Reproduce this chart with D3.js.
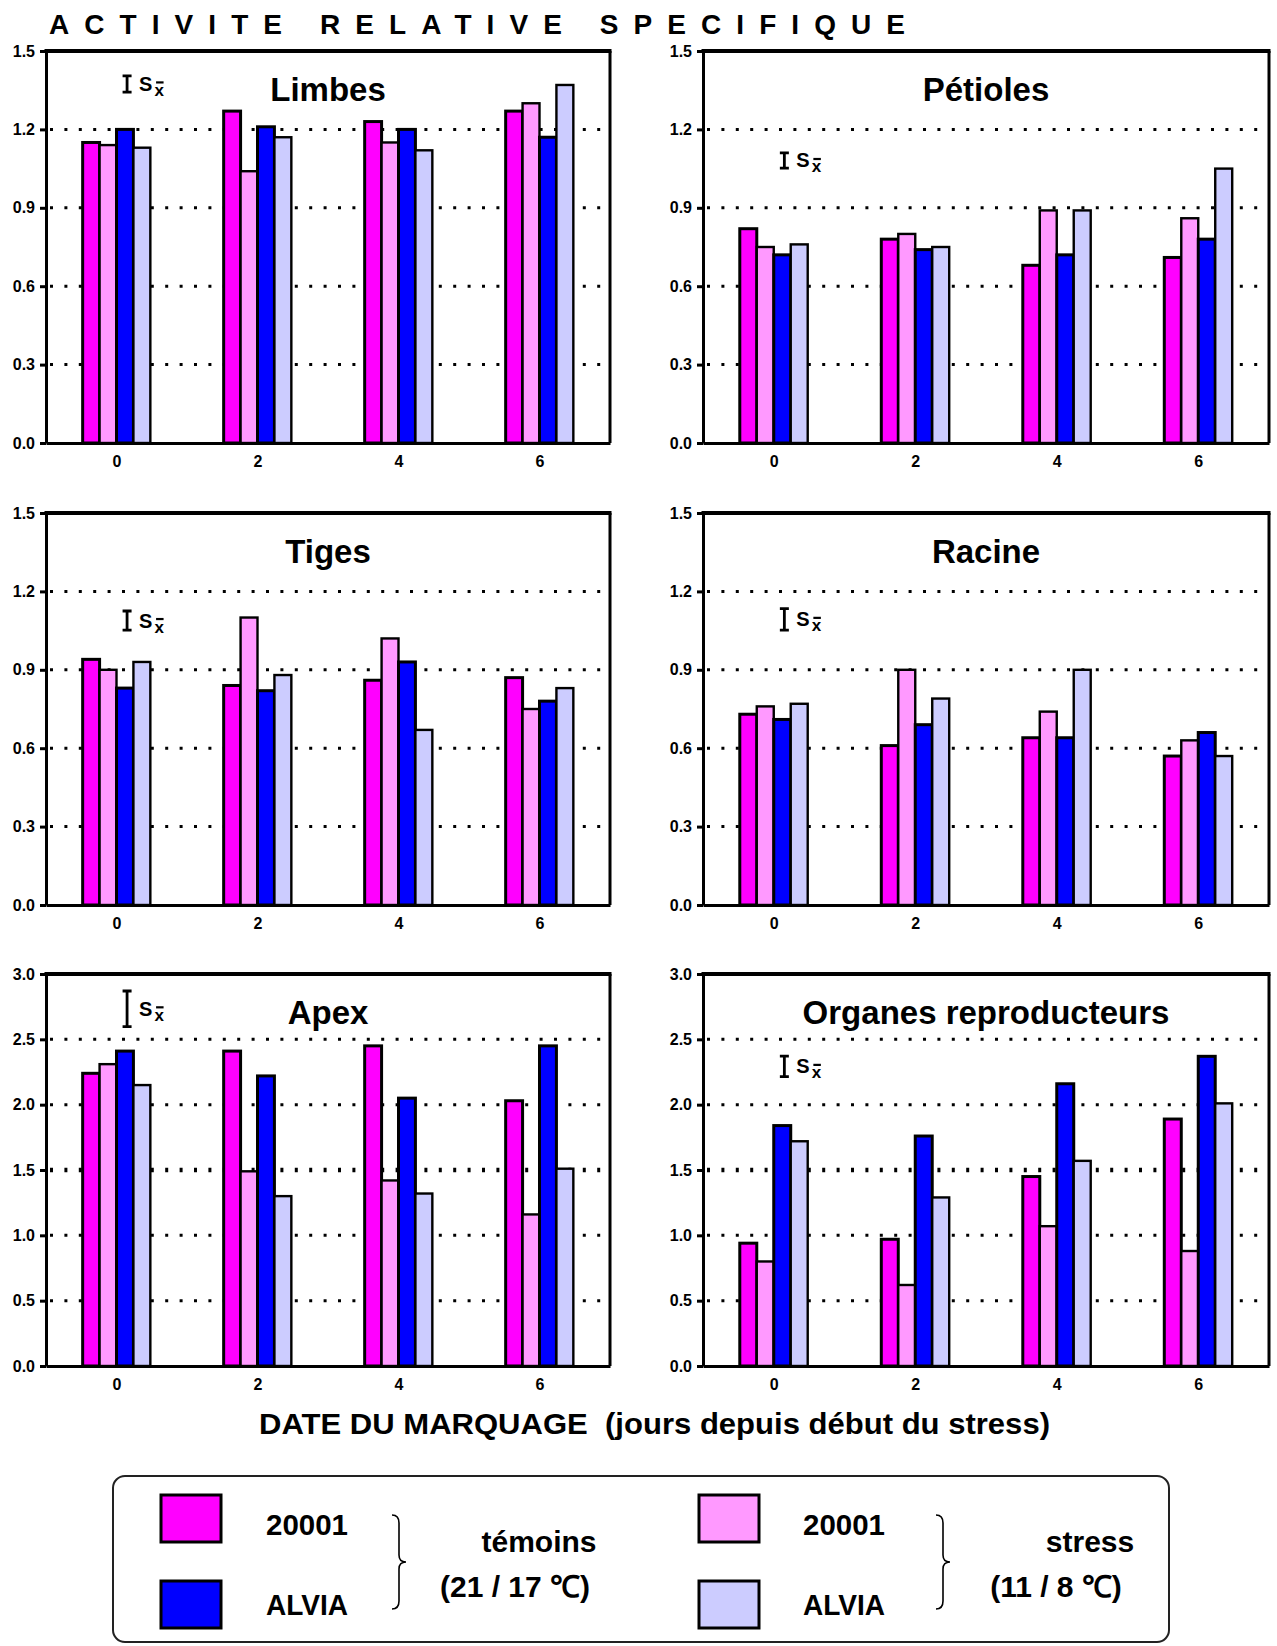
<!DOCTYPE html>
<html>
<head>
<meta charset="utf-8">
<script src="https://cdn.jsdelivr.net/npm/d3@7"></script>
<style>
  body { margin: 0; background: #fff; }
  svg text { font-family: "Liberation Sans", Arial, Helvetica, sans-serif; font-weight: bold; fill: #000; }
</style>
</head>
<body>
<svg id="chart" width="1277" height="1646"></svg>
<script>
// ---- data -------------------------------------------------------------
const days = [0, 2, 4, 6];
const seriesLabels = ["20001 témoins", "20001 stress", "ALVIA témoins", "ALVIA stress"];
const seriesColors = ["#ff00ff", "#ff99ff", "#0000ff", "#ccccff"];
const organNames = ["Limbes", "Pétioles", "Tiges", "Racine", "Apex", "Organes reproducteurs"];

// one row per series (20001 témoins, 20001 stress, ALVIA témoins, ALVIA stress), one value per day
const limbes = [
  [1.15, 1.27, 1.23, 1.27],
  [1.14, 1.04, 1.15, 1.30],
  [1.20, 1.21, 1.20, 1.17],
  [1.13, 1.17, 1.12, 1.37]
];
const petioles = [
  [0.82, 0.78, 0.68, 0.71],
  [0.75, 0.80, 0.89, 0.86],
  [0.72, 0.74, 0.72, 0.78],
  [0.76, 0.75, 0.89, 1.05]
];
const tiges = [
  [0.94, 0.84, 0.86, 0.87],
  [0.90, 1.10, 1.02, 0.75],
  [0.83, 0.82, 0.93, 0.78],
  [0.93, 0.88, 0.67, 0.83]
];
const racine = [
  [0.73, 0.61, 0.64, 0.57],
  [0.76, 0.90, 0.74, 0.63],
  [0.71, 0.69, 0.64, 0.66],
  [0.77, 0.79, 0.90, 0.57]
];
const apex = [
  [2.24, 2.41, 2.45, 2.03],
  [2.31, 1.49, 1.42, 1.16],
  [2.41, 2.22, 2.05, 2.45],
  [2.15, 1.30, 1.32, 1.51]
];
const organesRepro = [
  [0.94, 0.97, 1.45, 1.89],
  [0.80, 0.62, 1.07, 0.88],
  [1.84, 1.76, 2.16, 2.37],
  [1.72, 1.29, 1.57, 2.01]
];
const organValues = [limbes, petioles, tiges, racine, apex, organesRepro];

const ticksSmall = [0, 0.3, 0.6, 0.9, 1.2, 1.5];
const ticksLarge = [0, 0.5, 1.0, 1.5, 2.0, 2.5, 3.0];
const organTicks = [ticksSmall, ticksSmall, ticksSmall, ticksSmall, ticksLarge, ticksLarge];

// standard error of the mean shown as a reference bar in each panel
const semTop = [1.405, 1.110, 1.125, 1.134, 2.870, 2.372];
const semLength = [0.062, 0.058, 0.073, 0.082, 0.273, 0.158];

// ---- layout -----------------------------------------------------------
const svg = d3.select("#chart");
const colLeft = [46, 703];
const colWidth = [564, 566];
const rowTop = [51, 513, 974];
const panelH = 392;
const xDomain = [-1, 7];
const barUnit = 0.24;          // bar width in day units
const semX = 0.15;             // day position of the SEM marker

organNames.forEach((name, k) => {
  const col = k % 2, row = Math.floor(k / 2);
  const w = colWidth[col];
  const ticks = organTicks[k];
  const yMax = ticks[ticks.length - 1];
  const g = svg.append("g").attr("transform", `translate(${colLeft[col]},${rowTop[row]})`);

  const x = d3.scaleLinear().domain(xDomain).range([0, w]);
  const y = d3.scaleLinear().domain([0, yMax]).range([panelH, 0]);

  // dotted horizontal grid
  g.append("g").selectAll("line")
    .data(ticks.slice(1, -1))
    .join("line")
    .attr("x1", 2).attr("x2", w - 2)
    .attr("y1", d => y(d)).attr("y2", d => y(d))
    .attr("stroke", "#000")
    .attr("stroke-width", d => (yMax === 3 && d === 1.5) ? 4.5 : 3)
    .attr("stroke-dasharray", "3,11.4")
    .attr("stroke-dashoffset", -2);

  // bars
  const bw = x(barUnit) - x(0);
  const rows = [];
  organValues[k].forEach((serie, s) => serie.forEach((v, i) => rows.push({ s, day: days[i], v })));
  g.append("g").selectAll("rect")
    .data(rows)
    .join("rect")
    .attr("x", d => x(d.day + (d.s - 2) * barUnit))
    .attr("width", bw)
    .attr("y", d => y(d.v))
    .attr("height", d => y(0) - y(d.v))
    .attr("fill", d => seriesColors[d.s])
    .attr("stroke", "#000")
    .attr("stroke-width", d => (d.s % 2 === 0) ? 3 : 2.4);

  // frame: top and right edges
  g.append("line").attr("x1", -1.5).attr("x2", w + 1.5).attr("y1", 0).attr("y2", 0)
    .attr("stroke", "#000").attr("stroke-width", 4);
  g.append("line").attr("x1", w).attr("x2", w).attr("y1", 0).attr("y2", panelH)
    .attr("stroke", "#000").attr("stroke-width", 3);

  // y axis
  const yAxis = g.append("g")
    .call(d3.axisLeft(y).tickValues(ticks).tickSize(6).tickSizeOuter(0).tickPadding(5)
      .tickFormat(d3.format(".1f")));
  yAxis.select(".domain").attr("stroke-width", 3);
  yAxis.selectAll(".tick line").attr("stroke-width", 3);
  yAxis.selectAll(".tick text").attr("font-size", 16).attr("font-family", null);

  // x axis
  const xAxis = g.append("g").attr("transform", `translate(0,${panelH})`)
    .call(d3.axisBottom(x).tickValues(days).tickSize(0).tickSizeOuter(0).tickPadding(13)
      .tickFormat(d3.format("d")));
  xAxis.select(".domain").attr("stroke-width", 3);
  xAxis.selectAll(".tick text").attr("font-size", 16).attr("font-family", null);

  // panel title
  g.append("text")
    .attr("x", w / 2).attr("y", 50)
    .attr("text-anchor", "middle")
    .attr("font-size", 33)
    .text(name);

  // SEM marker: I  S x̄
  const cx = x(semX), yt = y(semTop[k]), yb = y(semTop[k] - semLength[k]);
  const mid = (yt + yb) / 2;
  g.append("path")
    .attr("d", `M${cx - 4.5},${yt}H${cx + 4.5}M${cx},${yt}V${yb}M${cx - 4.5},${yb}H${cx + 4.5}`)
    .attr("stroke", "#000").attr("stroke-width", 2.8).attr("fill", "none");
  g.append("text")
    .attr("x", cx + 12).attr("y", mid + 7)
    .attr("font-size", 20).attr("font-weight", "normal")
    .text("S");
  g.append("text")
    .attr("x", cx + 27.5).attr("y", mid + 12)
    .attr("font-size", 17)
    .text("x");
  g.append("line")
    .attr("x1", cx + 29).attr("x2", cx + 36.5)
    .attr("y1", mid - 1.5).attr("y2", mid - 1.5)
    .attr("stroke", "#000").attr("stroke-width", 2.2);
});

// ---- titles -----------------------------------------------------------
const mainTitle = svg.append("text")
  .attr("x", 49).attr("y", 34)
  .attr("font-size", 28)
  .text("ACTIVITE RELATIVE SPECIFIQUE");
{
  const n = "ACTIVITE RELATIVE SPECIFIQUE".length;
  const natural = mainTitle.node().getComputedTextLength();
  mainTitle.attr("letter-spacing", ((856 - natural) / (n - 1)).toFixed(2));
}

svg.append("text")
  .attr("x", 259).attr("y", 1434)
  .attr("font-size", 30)
  .attr("textLength", 791)
  .attr("lengthAdjust", "spacingAndGlyphs")
  .attr("xml:space", "preserve")
  .style("white-space", "pre")
  .text("DATE DU MARQUAGE  (jours depuis début du stress)");

// ---- legend -----------------------------------------------------------
const legend = svg.append("g");
legend.append("rect")
  .attr("x", 113).attr("y", 1476).attr("width", 1056).attr("height", 166)
  .attr("rx", 12).attr("ry", 12)
  .attr("fill", "none").attr("stroke", "#222").attr("stroke-width", 2);

const legendCols = [161, 699];       // swatch left edges
const legendRows = [1495, 1581];     // swatch top edges
const legendTextX = [266, 803];
const legendTextY = [1535, 1615];
const legendNames = ["20001", "ALVIA"];
const legendGroups = ["témoins", "stress"];
const legendTemps = ["(21 / 17 ℃)", "(11 / 8 ℃)"];
// series index for (group column, variety row)
const legendSeries = [[0, 2], [1, 3]];

legendCols.forEach((lx, c) => {
  legendRows.forEach((ly, r) => {
    legend.append("rect")
      .attr("x", lx).attr("y", ly).attr("width", 60).attr("height", 47)
      .attr("fill", seriesColors[legendSeries[c][r]])
      .attr("stroke", "#000").attr("stroke-width", 3);
    legend.append("text")
      .attr("x", legendTextX[c]).attr("y", legendTextY[r])
      .attr("font-size", 30)
      .attr("textLength", 82)
      .attr("lengthAdjust", "spacingAndGlyphs")
      .text(legendNames[r]);
  });
});

// curly braces grouping each pair
[399, 943].forEach(bx => {
  const t = 1515, b = 1609, m = (t + b) / 2;
  legend.append("path")
    .attr("d", `M${bx - 7},${t} Q${bx},${t} ${bx},${t + 8} V${m - 7} Q${bx},${m} ${bx + 7},${m}
                Q${bx},${m} ${bx},${m + 7} V${b - 8} Q${bx},${b} ${bx - 7},${b}`)
    .attr("fill", "none").attr("stroke", "#000").attr("stroke-width", 1.6);
});

[[539, 515], [1090, 1056]].forEach(([gx, tx], c) => {
  legend.append("text")
    .attr("x", gx).attr("y", 1552)
    .attr("text-anchor", "middle").attr("font-size", 30)
    .text(legendGroups[c]);
  legend.append("text")
    .attr("x", tx).attr("y", 1597)
    .attr("text-anchor", "middle").attr("font-size", 30)
    .text(legendTemps[c]);
});
</script>
</body>
</html>
